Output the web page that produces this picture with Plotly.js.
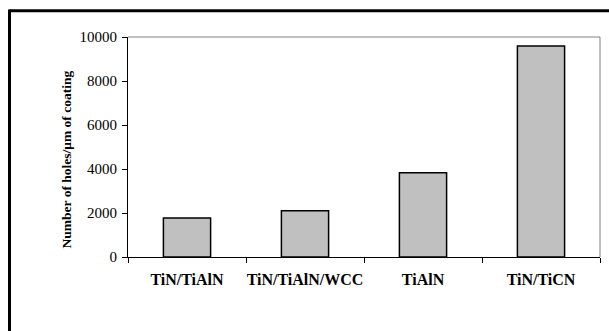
<!DOCTYPE html>
<html>
<head>
<meta charset="utf-8">
<script src="https://cdn.plot.ly/plotly-3.0.1.min.js"></script>
<style>html,body{margin:0;padding:0;background:#fff;}#chart{width:609px;height:331px;}</style>
</head>
<body>
<div id="chart"></div>
<script>
const categories = ["TiN/TiAlN", "TiN/TiAlN/WCC", "TiAlN", "TiN/TiCN"];
const holesPerMicron = [1770, 2100, 3830, 9590];
const yTickValues = [0, 2000, 4000, 6000, 8000, 10000];
const yAxisTitle = "Number of holes/μm of coating";

const SERIF = "Liberation Serif";
const L = 128, R = 600, T = 37, B = 257, W = 609, H = 331;
const px = x => (x - L) / (R - L);
const py = y => (B - y) / (B - T);

const trace = {
  type: "bar",
  x: categories,
  y: holesPerMicron,
  width: 0.4,
  marker: {color: "#C0C0C0", line: {color: "#000000", width: 1.5}},
  hoverinfo: "skip"
};

const layout = {
  width: W, height: H,
  margin: {l: L, r: W - R, t: T, b: H - B, pad: 0},
  paper_bgcolor: "#ffffff",
  plot_bgcolor: "#ffffff",
  showlegend: false,
  font: {family: SERIF, color: "#000"},
  xaxis: {
    type: "category",
    tickson: "boundaries",
    ticks: "outside", ticklen: 5, tickcolor: "#000", tickwidth: 1,
    showline: true, linecolor: "#000", linewidth: 1,
    showgrid: false, zeroline: false,
    tickangle: 0,
    tickfont: {family: SERIF, size: 16, weight: "bold", color: "#000"},
    ticklabelstandoff: 8,
    fixedrange: true
  },
  yaxis: {
    range: [0, 10000],
    tickvals: yTickValues,
    ticktext: yTickValues.map(String),
    ticks: "outside", ticklen: 5, tickcolor: "#000", tickwidth: 1,
    showline: true, linecolor: "#000", linewidth: 1,
    showgrid: false, zeroline: false,
    tickfont: {family: SERIF, size: 15, color: "#000"},
    ticklabelstandoff: 2,
    fixedrange: true
  },
  shapes: [
    {type: "line", xref: "paper", yref: "paper", x0: 0, x1: 1, y0: 1, y1: 1, line: {color: "#808080", width: 1}},
    {type: "line", xref: "paper", yref: "paper", x0: 1, x1: 1, y0: 0, y1: 1, line: {color: "#808080", width: 1}},
    {type: "line", xref: "paper", yref: "paper", x0: px(9.5), x1: px(612), y0: py(10.7), y1: py(10.7), line: {color: "#000", width: 3}},
    {type: "line", xref: "paper", yref: "paper", x0: px(9.5), x1: px(9.5), y0: py(9.5), y1: py(335), line: {color: "#000", width: 3}}
  ],
  annotations: [
    {text: "<b>" + yAxisTitle + "</b>", xref: "paper", yref: "paper", x: px(66), y: py(159.5),
     xanchor: "center", yanchor: "middle", textangle: -90, showarrow: false,
     font: {family: SERIF, size: 13.5, color: "#000"}}
  ]
};

Plotly.newPlot("chart", [trace], layout, {displayModeBar: false, staticPlot: true});
</script>
</body>
</html>
